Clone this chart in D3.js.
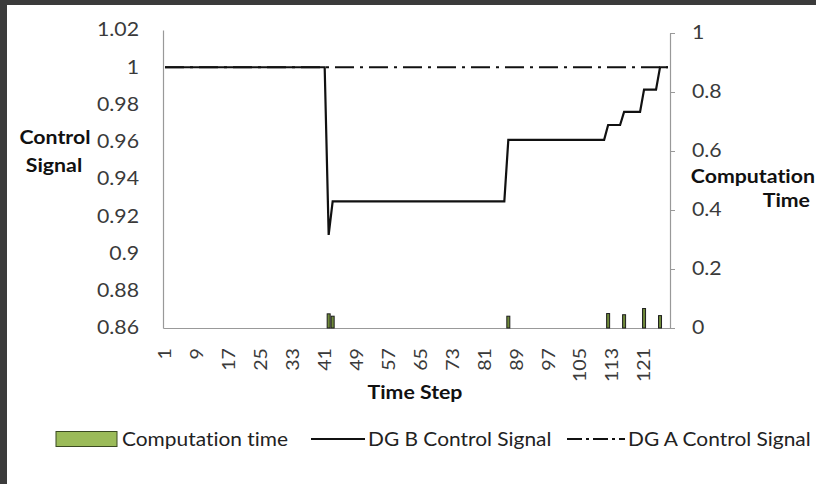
<!DOCTYPE html>
<html>
<head>
<meta charset="utf-8">
<script src="https://cdn.jsdelivr.net/npm/d3@7"></script>
<style>
  body { margin: 0; background: #fff; }
  svg { display: block; font-family: Lato, "Open Sans", sans-serif; font-variant-ligatures: none; }
  svg text { font-variant-ligatures: none; font-feature-settings: "liga" 0; }
</style>
</head>
<body>
<div id="chart"></div>
<script>
// time steps (categories)
var steps = d3.range(1, 128);
var stepLabels = [1, 9, 17, 25, 33, 41, 49, 57, 65, 73, 81, 89, 97, 105, 113, 121];

// DG B control signal, one value per step
var dgB = [
  1, 1, 1, 1, 1, 1, 1, 1, 1, 1, 1, 1, 1, 1, 1, 1, 1, 1, 1, 1,
  1, 1, 1, 1, 1, 1, 1, 1, 1, 1, 1, 1, 1, 1, 1, 1, 1, 1, 1, 1,
  1, 0.910, 0.928, 0.928, 0.928, 0.928, 0.928, 0.928, 0.928, 0.928,
  0.928, 0.928, 0.928, 0.928, 0.928, 0.928, 0.928, 0.928, 0.928, 0.928,
  0.928, 0.928, 0.928, 0.928, 0.928, 0.928, 0.928, 0.928, 0.928, 0.928,
  0.928, 0.928, 0.928, 0.928, 0.928, 0.928, 0.928, 0.928, 0.928, 0.928,
  0.928, 0.928, 0.928, 0.928, 0.928, 0.928, 0.961, 0.961, 0.961, 0.961,
  0.961, 0.961, 0.961, 0.961, 0.961, 0.961, 0.961, 0.961, 0.961, 0.961,
  0.961, 0.961, 0.961, 0.961, 0.961, 0.961, 0.961, 0.961, 0.961, 0.961,
  0.961, 0.969, 0.969, 0.969, 0.969, 0.976, 0.976, 0.976, 0.976, 0.976,
  0.988, 0.988, 0.988, 0.988, 1, 1, 1
];

// DG A control signal stays at 1
var dgA = [
  1, 1, 1, 1, 1, 1, 1, 1, 1, 1, 1, 1, 1, 1, 1, 1, 1, 1, 1, 1,
  1, 1, 1, 1, 1, 1, 1, 1, 1, 1, 1, 1, 1, 1, 1, 1, 1, 1, 1, 1,
  1, 1, 1, 1, 1, 1, 1, 1, 1, 1, 1, 1, 1, 1, 1, 1, 1, 1, 1, 1,
  1, 1, 1, 1, 1, 1, 1, 1, 1, 1, 1, 1, 1, 1, 1, 1, 1, 1, 1, 1,
  1, 1, 1, 1, 1, 1, 1, 1, 1, 1, 1, 1, 1, 1, 1, 1, 1, 1, 1, 1,
  1, 1, 1, 1, 1, 1, 1, 1, 1, 1, 1, 1, 1, 1, 1, 1, 1, 1, 1, 1,
  1, 1, 1, 1, 1, 1, 1
];

// computation time, only steps where something was computed
var compSteps = [42, 43, 87, 112, 116, 121, 125];
var compTime = [0.048, 0.040, 0.040, 0.049, 0.045, 0.066, 0.042];

var leftTicks = [0.86, 0.88, 0.9, 0.92, 0.94, 0.96, 0.98, 1, 1.02];
var rightTicks = [0, 0.2, 0.4, 0.6, 0.8, 1];

var W = 816, H = 484;
var plot = {left: 163, right: 670, top: 30, bottom: 328};
var axisColor = "#999";
var textColor = "#3a3a3a";

var svg = d3.select("#chart").append("svg")
    .attr("width", W)
    .attr("height", H);

svg.append("rect").attr("width", W).attr("height", H).attr("fill", "#fff");
// dark frame of the screenshot
svg.append("rect").attr("x", 0).attr("y", 0).attr("width", W).attr("height", 5).attr("fill", "#3b3b3b");
svg.append("rect").attr("x", 0).attr("y", 0).attr("width", 7).attr("height", H).attr("fill", "#3b3b3b");

var x = d3.scaleBand().domain(steps).range([plot.left, plot.right]);
var xc = function(s) { return x(s) + x.bandwidth() / 2; };
var yL = d3.scaleLinear().domain([0.86, 1.02]).range([plot.bottom, plot.top]);
var yR = d3.scaleLinear().domain([0, 1]).range([plot.bottom, 33]);

// stretch text a bit wider, like the original picture
function stretch(sel, k) {
  sel.each(function() {
    var L = this.getComputedTextLength();
    d3.select(this).attr("textLength", L * k).attr("lengthAdjust", "spacingAndGlyphs");
  });
}

// axes
var gLeft = svg.append("g")
    .attr("transform", "translate(" + plot.left + ",0)")
    .call(d3.axisLeft(yL).tickValues(leftTicks).tickSize(0).tickPadding(24)
      .tickFormat(function(d) { return String(+d.toFixed(2)); }));

var gRight = svg.append("g")
    .attr("transform", "translate(" + plot.right + ",0)")
    .call(d3.axisRight(yR).tickValues(rightTicks).tickSizeInner(5).tickSizeOuter(0).tickPadding(17)
      .tickFormat(function(d) { return String(+d.toFixed(1)); }));

var gBottom = svg.append("g")
    .attr("transform", "translate(0," + plot.bottom + ")")
    .call(d3.axisBottom(x).tickValues(stepLabels).tickSize(0));

[gLeft, gRight, gBottom].forEach(function(g) {
  g.select(".domain").attr("stroke", axisColor).attr("stroke-width", 1.2);
  g.selectAll(".tick line").attr("stroke", axisColor);
  g.selectAll("text")
    .attr("fill", textColor)
    .style("font-size", "18.5px")
    .style("font-family", "Lato, sans-serif");
});
gBottom.selectAll("text").style("font-size", "17.5px");

gBottom.selectAll(".tick text")
    .attr("transform", "rotate(-90)")
    .attr("text-anchor", "end")
    .attr("x", -20)
    .attr("y", 0)
    .attr("dy", "0.36em");

stretch(gLeft.selectAll("text"), 1.15);
stretch(gRight.selectAll("text"), 1.15);
stretch(gBottom.selectAll("text"), 1.12);

// computation time bars
svg.append("g").selectAll("rect")
    .data(compSteps)
    .enter()
    .append("rect")
    .attr("x", function(d) { return xc(d) - 1.5; })
    .attr("y", function(d, i) { return yR(compTime[i]); })
    .attr("width", 3)
    .attr("height", function(d, i) { return yR(0) - yR(compTime[i]); })
    .attr("fill", "#6f8a3a")
    .attr("stroke", "#1e1e1e")
    .attr("stroke-width", 1);

// control signal lines
var line = d3.line()
    .x(function(d, i) { return xc(steps[i]); })
    .y(function(d) { return yL(d); });

svg.append("path")
    .datum(dgA)
    .attr("d", line)
    .attr("fill", "none")
    .attr("stroke", "#111")
    .attr("stroke-width", 2.2)
    .attr("stroke-dasharray", "19,6,3,6");

svg.append("path")
    .datum(dgB)
    .attr("d", line)
    .attr("fill", "none")
    .attr("stroke", "#111")
    .attr("stroke-width", 2.2)
    .attr("stroke-linejoin", "miter");

// axis titles
var titles = svg.append("g")
    .style("font-family", "Lato, sans-serif")
    .style("font-size", "19px")
    .style("font-weight", "bold")
    .attr("fill", "#111");

titles.append("text").attr("x", 55).attr("y", 137).attr("dy", "0.36em").attr("text-anchor", "middle").text("Control");
titles.append("text").attr("x", 54).attr("y", 165).attr("dy", "0.36em").attr("text-anchor", "middle").text("Signal");
titles.append("text").attr("x", 815).attr("y", 176).attr("dy", "0.36em").attr("text-anchor", "end").text("Computation");
titles.append("text").attr("x", 810).attr("y", 200).attr("dy", "0.36em").attr("text-anchor", "end").text("Time");
titles.append("text").attr("x", 415).attr("y", 392).attr("dy", "0.36em").attr("text-anchor", "middle").text("Time Step");
stretch(titles.selectAll("text"), 1.12);

// legend
var legY = 439;
var legend = svg.append("g")
    .style("font-family", "Lato, sans-serif")
    .style("font-size", "19px")
    .attr("fill", "#222");

legend.append("rect")
    .attr("x", 56).attr("y", legY - 7.5).attr("width", 61).attr("height", 15)
    .attr("fill", "#9bbb59").attr("stroke", "#3b4a22").attr("stroke-width", 1);
legend.append("text").attr("x", 122).attr("y", legY).attr("dy", "0.36em").text("Computation time");

legend.append("line")
    .attr("x1", 311).attr("x2", 365).attr("y1", legY).attr("y2", legY)
    .attr("stroke", "#111").attr("stroke-width", 2.2);
legend.append("text").attr("x", 368).attr("y", legY).attr("dy", "0.36em").text("DG B Control Signal");

legend.append("line")
    .attr("x1", 567).attr("x2", 625).attr("y1", legY).attr("y2", legY)
    .attr("stroke", "#111").attr("stroke-width", 2.2)
    .attr("stroke-dasharray", "15,4,3,4");
legend.append("text").attr("x", 628).attr("y", legY).attr("dy", "0.36em").text("DG A Control Signal");
stretch(legend.selectAll("text"), 1.1);
</script>
</body>
</html>
